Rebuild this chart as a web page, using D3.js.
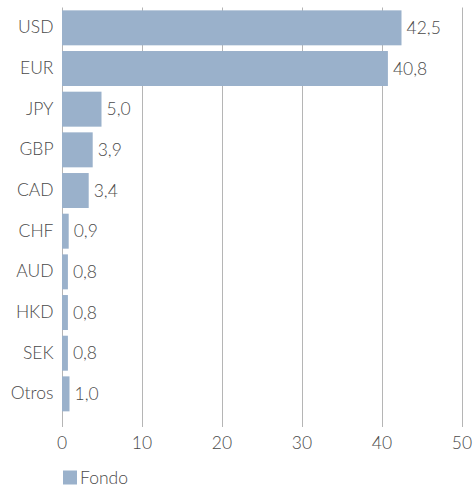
<!DOCTYPE html>
<html>
<head>
    <meta charset="utf-8">
    <title>Fondo por divisa</title>
    <script src="https://d3js.org/d3.v7.min.js"></script>
    <style>
        body { margin: 0; background: #fff; }
        text { font-family: Lato, "Open Sans", sans-serif; font-weight: 300; fill: #4a4a4a; }
        .grid line { stroke: #b5b5b5; stroke-width: 1; }
        .bar { fill: #9ab1cb; }
    </style>
</head>
<body>
    <div id="chart"></div>

    <script>
        // datos
        const categories = ["USD", "EUR", "JPY", "GBP", "CAD", "CHF", "AUD", "HKD", "SEK", "Otros"];
        const values = [42.5, 40.8, 5.0, 3.9, 3.4, 0.9, 0.8, 0.8, 0.8, 1.0];
        const xTicks = [0, 10, 20, 30, 40, 50];
        const seriesName = "Fondo";

        const width = 474, height = 488;

        const svg = d3.select("#chart")
            .append("svg")
            .attr("width", width)
            .attr("height", height);

        const x = d3.scaleLinear()
            .domain([0, 50])
            .range([61.5, 461.5]);

        const y = d3.scaleBand()
            .domain(categories)
            .range([7.5, 414.2])
            .paddingInner(0.14)
            .paddingOuter(0.07);

        const fmt = v => d3.format(".1f")(v).replace(".", ",");

        // lineas verticales de la cuadricula
        svg.append("g")
            .attr("class", "grid")
            .selectAll("line")
            .data(xTicks)
            .join("line")
            .attr("x1", d => Math.round(x(d)) + 0.5)
            .attr("x2", d => Math.round(x(d)) + 0.5)
            .attr("y1", 7.5)
            .attr("y2", 427);

        // barras
        svg.selectAll(".bar")
            .data(values)
            .join("rect")
            .attr("class", "bar")
            .attr("x", x(0) + 0.5)
            .attr("y", (d, i) => y(categories[i]))
            .attr("width", d => x(d) - x(0) - 0.5)
            .attr("height", y.bandwidth());

        // etiquetas de valor
        svg.selectAll(".val")
            .data(values)
            .join("text")
            .attr("class", "val")
            .attr("x", d => x(d) + 5)
            .attr("y", (d, i) => y(categories[i]) + y.bandwidth() / 2)
            .attr("dy", "0.35em")
            .style("font-size", "17.5px")
            .text(d => fmt(d));

        // eje y
        const yAxis = svg.append("g")
            .attr("transform", `translate(${x(0)},0)`)
            .call(d3.axisLeft(y).tickSize(0).tickPadding(8));
        yAxis.select(".domain").remove();
        yAxis.selectAll("text")
            .style("font-size", "17.5px")
            .style("font-family", "Lato, 'Open Sans', sans-serif")
            .attr("fill", "#4a4a4a");

        // eje x
        const xAxis = svg.append("g")
            .attr("transform", "translate(0,427)")
            .call(d3.axisBottom(x).tickValues(xTicks).tickSize(0).tickPadding(10));
        xAxis.select(".domain").remove();
        xAxis.selectAll("text")
            .style("font-size", "17.5px")
            .style("font-family", "Lato, 'Open Sans', sans-serif")
            .attr("fill", "#4a4a4a");

        // leyenda
        const legend = svg.append("g")
            .attr("transform", "translate(63,470.5)");
        legend.append("rect")
            .attr("class", "bar")
            .attr("width", 14)
            .attr("height", 14);
        legend.append("text")
            .attr("x", 17)
            .attr("y", 7.5)
            .attr("dy", "0.35em")
            .style("font-size", "17.5px")
            .text(seriesName);
    </script>
</body>
</html>
